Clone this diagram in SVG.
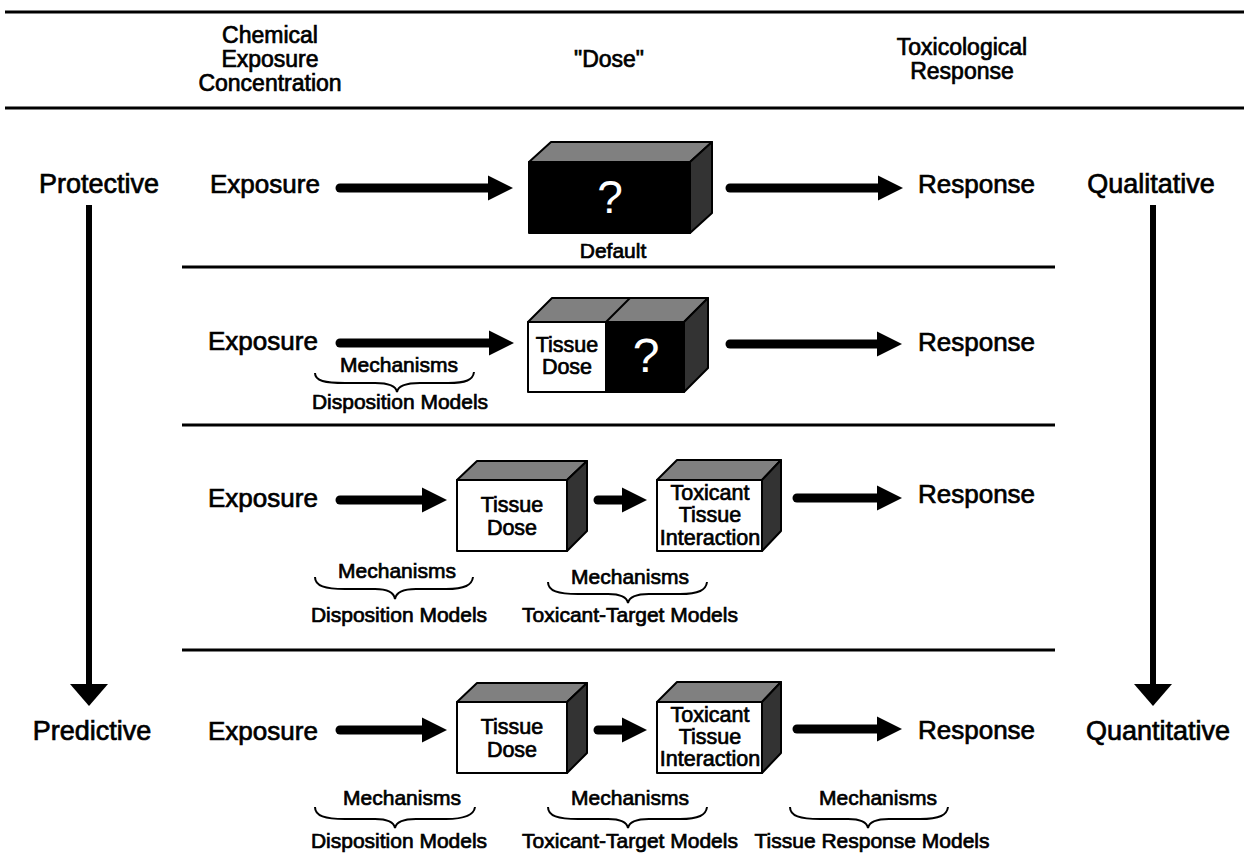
<svg xmlns="http://www.w3.org/2000/svg" width="1244" height="856" viewBox="0 0 1244 856">
<defs>
<style>
text{font-family:"Liberation Sans",Arial,sans-serif;fill:#000;stroke:#000;stroke-width:0.7}
.hd{font-size:23px;text-anchor:middle}
.lb{font-size:26px}
.mid{text-anchor:middle}
.sm{font-size:21px;text-anchor:middle}
.bx{font-size:21.5px;text-anchor:middle}
.q{fill:#fff;stroke:none;font-size:46px;text-anchor:middle}
.rule{stroke:#000;stroke-width:3;fill:none}
.shaft{stroke:#000;stroke-width:9;stroke-linecap:round;fill:none}
.vshaft{stroke:#000;stroke-width:6;fill:none}
.brace{stroke:#000;stroke-width:2;fill:none}
.front{fill:#fff;stroke:#000;stroke-width:2;stroke-linejoin:round}
.black{fill:#000;stroke:#000;stroke-width:2;stroke-linejoin:round}
.top{fill:#808080;stroke:#000;stroke-width:2;stroke-linejoin:round}
.side{fill:#333;stroke:#000;stroke-width:2;stroke-linejoin:round}
</style>
<marker id="ah" markerUnits="userSpaceOnUse" markerWidth="26" markerHeight="26" refX="0" refY="12.5" orient="auto" overflow="visible">
<path d="M0,0 L25,12.5 L0,25 Z" fill="#000"/>
</marker>
<marker id="vh" markerUnits="userSpaceOnUse" markerWidth="24" markerHeight="40" refX="0" refY="19" orient="auto" overflow="visible">
<path d="M0,0 L22,19 L0,38 Z" fill="#000"/>
</marker>
</defs>
<rect width="1244" height="856" fill="#fff"/>

<g id="header">
<line class="rule" x1="5" y1="12" x2="1244" y2="12"/>
<line class="rule" x1="5" y1="108" x2="1244" y2="108"/>
<text class="hd" x="270" y="43">Chemical</text>
<text class="hd" x="270" y="67">Exposure</text>
<text class="hd" x="270" y="91">Concentration</text>
<text class="hd" x="609" y="67">"Dose"</text>
<text class="hd" x="962" y="55">Toxicological</text>
<text class="hd" x="962" y="79">Response</text>
</g>

<g id="separators">
<line class="rule" x1="182" y1="267" x2="1055" y2="267"/>
<line class="rule" x1="182" y1="425" x2="1055" y2="425"/>
<line class="rule" x1="182" y1="650" x2="1055" y2="650"/>
</g>

<g id="scale-labels">
<text class="lb mid" x="99" y="193" style="font-size:27px">Protective</text>
<text class="lb mid" x="92" y="740" style="font-size:27px">Predictive</text>
<text class="lb mid" x="1151" y="193" style="font-size:27px">Qualitative</text>
<text class="lb mid" x="1158" y="740" style="font-size:27px">Quantitative</text>
</g>

<g id="row1">
<text class="lb" x="210" y="193">Exposure</text>
<text class="lb" x="918" y="193">Response</text>
<g id="box-default">
<polygon class="top" points="529,162 551,142 712,142 690,162"/>
<polygon class="side" points="690,162 712,142 712,213 690,233"/>
<rect class="black" x="529" y="162" width="161" height="71"/>
<text class="q" x="610" y="213">?</text>
</g>
<text class="sm" x="613" y="258">Default</text>
</g>

<g id="row2">
<text class="lb" x="208" y="350">Exposure</text>
<text class="lb" x="918" y="351">Response</text>
<g id="box-tissue-unknown">
<polygon class="top" points="528,322 552,298 708,298 684,322"/>
<line x1="606" y1="322" x2="630" y2="298" stroke="#000" stroke-width="2"/>
<polygon class="side" points="684,322 708,298 708,368 684,392"/>
<rect class="black" x="606" y="322" width="78" height="70"/>
<rect class="front" x="528" y="322" width="78" height="70"/>
<text class="bx" x="567" y="352">Tissue</text>
<text class="bx" x="567" y="374">Dose</text>
<text class="q" x="646" y="372" style="font-size:48px">?</text>
</g>
<text class="sm" x="399" y="372">Mechanisms</text>
<text class="sm" x="400" y="409">Disposition Models</text>
</g>

<g id="row3">
<text class="lb" x="208" y="507">Exposure</text>
<text class="lb" x="918" y="503">Response</text>
<g id="box-tissue-dose-3">
<polygon class="top" points="457,480 477,461 587,461 567,480"/>
<polygon class="side" points="567,480 587,461 587,531 567,551"/>
<rect class="front" x="457" y="480" width="110" height="71"/>
<text class="bx" x="512" y="512">Tissue</text>
<text class="bx" x="512" y="535">Dose</text>
</g>
<g id="box-interaction-3">
<polygon class="top" points="657,480 677,460 781,460 762,480"/>
<polygon class="side" points="762,480 781,460 781,531 762,551"/>
<rect class="front" x="657" y="480" width="105" height="71"/>
<text class="bx" x="710" y="500">Toxicant</text>
<text class="bx" x="710" y="522">Tissue</text>
<text class="bx" x="710" y="545">Interaction</text>
</g>
<text class="sm" x="397" y="578">Mechanisms</text>
<text class="sm" x="399" y="622">Disposition Models</text>
<text class="sm" x="630" y="584">Mechanisms</text>
<text class="sm" x="630" y="622">Toxicant-Target Models</text>
</g>

<g id="row4">
<text class="lb" x="208" y="740">Exposure</text>
<text class="lb" x="918" y="739">Response</text>
<g id="box-tissue-dose-4">
<polygon class="top" points="457,702 477,683 587,683 567,702"/>
<polygon class="side" points="567,702 587,683 587,753 567,773"/>
<rect class="front" x="457" y="702" width="110" height="71"/>
<text class="bx" x="512" y="734">Tissue</text>
<text class="bx" x="512" y="757">Dose</text>
</g>
<g id="box-interaction-4">
<polygon class="top" points="657,702 677,682 781,682 762,702"/>
<polygon class="side" points="762,702 781,682 781,753 762,773"/>
<rect class="front" x="657" y="702" width="105" height="71"/>
<text class="bx" x="710" y="722">Toxicant</text>
<text class="bx" x="710" y="744">Tissue</text>
<text class="bx" x="710" y="766">Interaction</text>
</g>
<text class="sm" x="402" y="805">Mechanisms</text>
<text class="sm" x="399" y="848">Disposition Models</text>
<text class="sm" x="630" y="805">Mechanisms</text>
<text class="sm" x="630" y="848">Toxicant-Target Models</text>
<text class="sm" x="878" y="805">Mechanisms</text>
<text class="sm" x="872" y="848">Tissue Response Models</text>
</g>

<g id="connectors">
<line class="vshaft" x1="89" y1="205" x2="89" y2="684" marker-end="url(#vh)"/>
<line class="vshaft" x1="1153" y1="205" x2="1153" y2="684" marker-end="url(#vh)"/>
<line class="shaft" x1="340" y1="188" x2="488" y2="188" marker-end="url(#ah)"/>
<line class="shaft" x1="730" y1="188" x2="878" y2="188" marker-end="url(#ah)"/>
<line class="shaft" x1="340" y1="343" x2="489" y2="343" marker-end="url(#ah)"/>
<line class="shaft" x1="730" y1="344" x2="877" y2="344" marker-end="url(#ah)"/>
<line class="shaft" x1="340" y1="500" x2="422" y2="500" marker-end="url(#ah)"/>
<line class="shaft" x1="598" y1="500" x2="622" y2="500" marker-end="url(#ah)"/>
<line class="shaft" x1="797" y1="498" x2="877" y2="498" marker-end="url(#ah)"/>
<line class="shaft" x1="340" y1="730" x2="422" y2="730" marker-end="url(#ah)"/>
<line class="shaft" x1="598" y1="730" x2="622" y2="730" marker-end="url(#ah)"/>
<line class="shaft" x1="797" y1="729" x2="877" y2="729" marker-end="url(#ah)"/>
</g>

<g id="braces">
<path class="brace" d="M315,373 C315,381 325,383 345,383 L375,383 C388,383 396,386 397,392 C398,386 406,383 420,383 L448,383 C466,383 473,380 474,372"/>
<path class="brace" d="M315,577 C315,586 325,589 345,589 L375,589 C388,589 394,593 395,599 C396,593 402,589 416,589 L446,589 C465,589 472,585 473,577"/>
<path class="brace" d="M548,582 C548,591 558,594 578,594 L608,594 C621,594 627,598 628,603 C629,598 635,594 649,594 L680,594 C699,594 706,590 707,582"/>
<path class="brace" d="M315,807 C315,816 325,819 345,819 L375,819 C388,819 394,823 395,828 C396,823 402,819 416,819 L446,819 C465,819 474,815 475,807"/>
<path class="brace" d="M548,807 C548,816 558,819 578,819 L608,819 C621,819 627,823 628,828 C629,823 635,819 649,819 L680,819 C699,819 706,815 707,807"/>
<path class="brace" d="M790,807 C790,816 800,819 820,819 L848,819 C861,819 867,823 868,828 C869,823 875,819 889,819 L920,819 C940,819 947,815 948,807"/>
</g>
</svg>
